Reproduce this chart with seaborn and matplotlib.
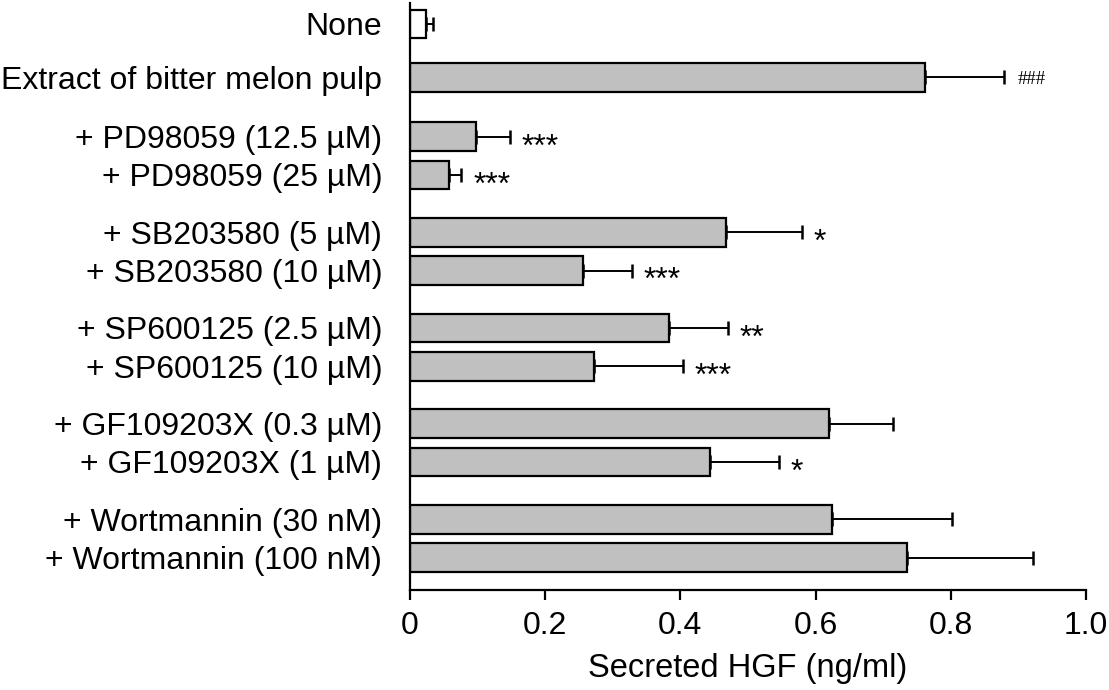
import numpy as np
import pandas as pd
import matplotlib
matplotlib.use("Agg")
import matplotlib.pyplot as plt
import seaborn as sns

# treatments, top to bottom
LABELS = [
    "None",
    "Extract of bitter melon pulp",
    "+ PD98059 (12.5 µM)",
    "+ PD98059 (25 µM)",
    "+ SB203580 (5 µM)",
    "+ SB203580 (10 µM)",
    "+ SP600125 (2.5 µM)",
    "+ SP600125 (10 µM)",
    "+ GF109203X (0.3 µM)",
    "+ GF109203X (1 µM)",
    "+ Wortmannin (30 nM)",
    "+ Wortmannin (100 nM)",
]
HGF = [0.024, 0.762, 0.098, 0.058, 0.467, 0.256, 0.383, 0.272, 0.620, 0.444, 0.624, 0.735]
SEM = [0.010, 0.117, 0.050, 0.018, 0.113, 0.072, 0.087, 0.132, 0.095, 0.102, 0.178, 0.186]
SIG = ["", "###", "***", "***", "*", "***", "**", "***", "", "*", "", ""]

XTICKS = [0, 0.2, 0.4, 0.6, 0.8, 1.0]
XTICKLABELS = ["0", "0.2", "0.4", "0.6", "0.8", "1.0"]

# layout: spacing between rows (wider gap between inhibitor groups)
ROW_GAPS = [0, 1.4, 1.55, 1, 1.5, 1, 1.5, 1, 1.5, 1, 1.5, 1]
FILLS = ["white"] + ["#c0c0c0"] * 11

sns.set_style("ticks")
plt.rcParams["font.family"] = ["Liberation Sans", "DejaVu Sans"]
plt.rcParams.update({
    "text.color": "black", "axes.labelcolor": "black",
    "xtick.color": "black", "ytick.color": "black", "axes.edgecolor": "black",
})

pos = np.cumsum(ROW_GAPS)
df = pd.DataFrame({"pos": pos, "hgf": HGF, "label": LABELS})

fig = plt.figure(figsize=(11.09, 6.90), dpi=100)
ax = fig.add_axes([0.3697, 0.1449, 0.6096, 0.851])

sns.barplot(
    data=df, x="hgf", y="pos", hue="label", orient="h", native_scale=True,
    palette=dict(zip(LABELS, FILLS)), dodge=False, legend=False,
    width=0.75, edgecolor="black", linewidth=1.6, saturation=1, ax=ax,
)
ax.errorbar(
    HGF, pos, xerr=[np.zeros(len(SEM)), SEM], fmt="none",
    ecolor="black", elinewidth=1.4, capsize=5, capthick=1.8, zorder=1,
)

for v, e, y, s in zip(HGF, SEM, pos, SIG):
    if not s:
        continue
    if s.startswith("#"):
        ax.annotate(s, (v + e, y), xytext=(10, -5), textcoords="offset points",
                    ha="left", va="baseline", fontsize=13.5,
                    family=["Liberation Serif", "DejaVu Serif"])
    else:
        ax.annotate(s, (v + e, y), xytext=(8.5, -13.5), textcoords="offset points",
                    ha="left", va="baseline", fontsize=23)

ax.set_xlim(0, 1.0)
ax.set_ylim(14.8, -0.55)
ax.set_xticks(XTICKS, XTICKLABELS)
ax.set_yticks(pos, LABELS)
ax.tick_params(axis="y", length=0, pad=20, labelsize=23)
ax.tick_params(axis="x", length=7, width=1.6, pad=8, labelsize=23)
ax.set_xlabel("Secreted HGF (ng/ml)", fontsize=23.5, labelpad=9)
ax.set_ylabel("")
for side in ["left", "bottom"]:
    ax.spines[side].set_linewidth(1.6)
sns.despine(ax=ax)

plt.savefig("out.png", dpi=100)
plt.close()
